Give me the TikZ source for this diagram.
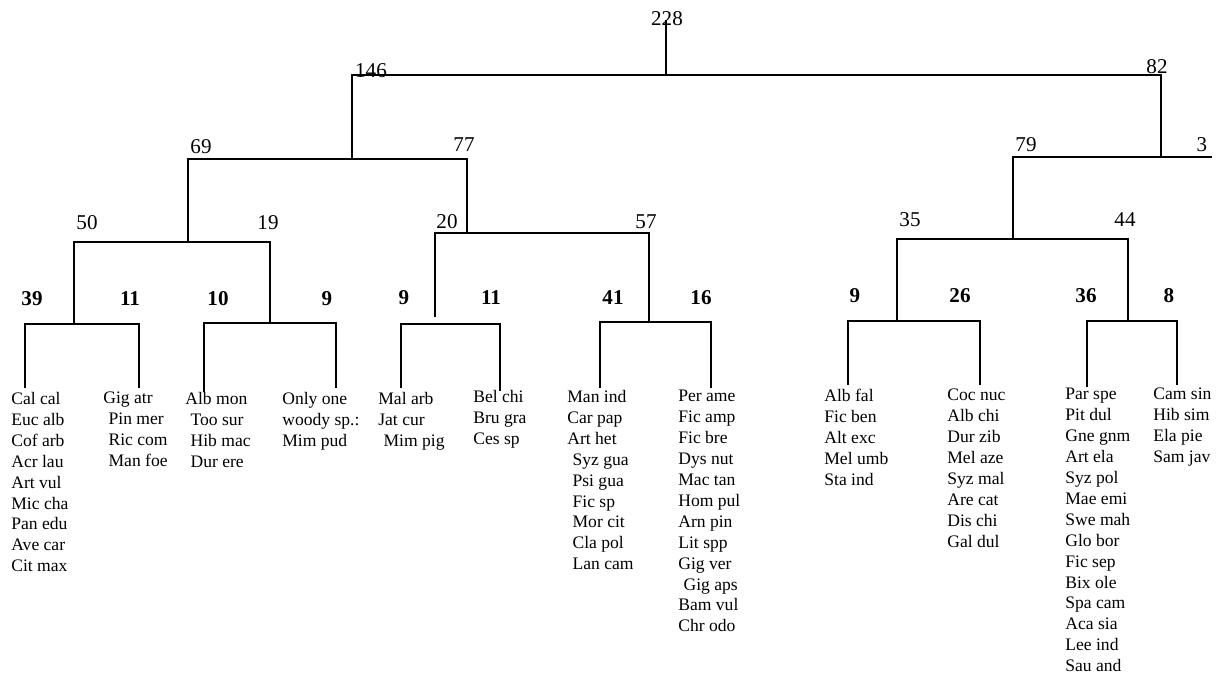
\documentclass[tikz,border=0pt]{standalone}
\usepackage{fontspec}
\setmainfont{Liberation Serif}
\usetikzlibrary{calc}

\begin{document}
\begin{tikzpicture}[
    x=0.02cm, y=-0.02cm,
    link/.style={line width=1pt},
    num/.style={font=\fontsize{12}{14}\selectfont, inner sep=0pt},
    grp/.style={font=\fontsize{12}{14}\selectfont\bfseries, inner sep=0pt},
    taxa/.style={font=\fontsize{10}{11.9}\selectfont, align=left, anchor=north west, inner sep=0pt},
  ]
    \useasboundingbox (0,0) rectangle (1221,678);
    \def\Ly{388}\def\sh{\hspace*{3pt}}
    % ---- junctions ----
    \coordinate (top) at (666,20);
    \coordinate (b228) at (666,75);
    \coordinate (b146) at (352,159);
    \coordinate (b82) at (1161,157);
    \coordinate (e3) at (1212,157);
    \coordinate (b69) at (188,242);
    \coordinate (b77) at (467,233);
    \coordinate (b79) at (1013,239);
    \coordinate (b50) at (74,324);
    \coordinate (b19) at (270,323);
    \coordinate (b20) at (435,317);
    \coordinate (g20) at (435,324);
    \coordinate (b57) at (649,322);
    \coordinate (b35) at (897,321);
    \coordinate (b44) at (1128,321);
    % ---- leaf stems ----
    \coordinate (l39) at (25,\Ly);   \coordinate (l11a) at (139,\Ly);
    \coordinate (l10) at (204,392);  \coordinate (l9a) at (336,\Ly);
    \coordinate (l9b) at (401,\Ly);  \coordinate (l11b) at (500,391);
    \coordinate (l41) at (600,\Ly);  \coordinate (l16) at (711,\Ly);
    \coordinate (l9c) at (848,385);  \coordinate (l26) at (980,385);
    \coordinate (l36) at (1087,387); \coordinate (l8) at (1177,385);
    % ---- tree ----
    \draw[link] (top) -- (b228);
    \draw[link] (b146) |- (b228) -| (b82);
    \draw[link] (b69) |- (b146) -| (b77);
    \draw[link] (b79) |- (b82) -- (e3);
    \draw[link] (b50) |- (b69) -| (b19);
    \draw[link] (b20) |- (b77) -| (b57);
    \draw[link] (b35) |- (b79) -| (b44);
    \draw[link] (l39) |- (b50) -| (l11a);
    \draw[link] (l10) |- (b19) -| (l9a);
    \draw[link] (l9b) |- (g20) -| (l11b);
    \draw[link] (l41) |- (b57) -| (l16);
    \draw[link] (l9c) |- (b35) -| (l26);
    \draw[link] (l36) |- (b44) -| (l8);
    % ---- cluster sizes ----
    \node[num] (n228) at (667,19) {228};
    \node[num] (n146) at (371,71) {146};
    \node[num] (n82) at (1157,67) {82};
    \node[num] (n79) at (1026,145) {79};
    \node[num] (n3) at (1202,145) {3};
    \node[num] (n69) at (201,147) {69};
    \node[num] (n77) at (464,145) {77};
    \node[num] (n50) at (87,223) {50};
    \node[num] (n19) at (268,223) {19};
    \node[num] (n20) at (447,222) {20};
    \node[num] (n57) at (646,222) {57};
    \node[num] (n35) at (910,220) {35};
    \node[num] (n44) at (1125,220) {44};
    \node[grp] (g39) at (32,299) {39};
    \node[grp] (g11a) at (130,299) {11};
    \node[grp] (g10) at (218,299) {10};
    \node[grp] (g9a) at (327,299) {9};
    \node[grp] (g9b) at (404,298) {9};
    \node[grp] (g11b) at (491,298) {11};
    \node[grp] (g41) at (613,298) {41};
    \node[grp] (g16) at (701,298) {16};
    \node[grp] (g9c) at (855,296) {9};
    \node[grp] (g26) at (960,296) {26};
    \node[grp] (g36) at (1086,296) {36};
    \node[grp] (g8) at (1169,296) {8};
    % ---- species lists ----
    \node[taxa] (t39) at (11,392) {Cal cal\\Euc alb\\Cof arb\\Acr lau\\Art vul\\Mic cha\\Pan edu\\Ave car\\Cit max};
    \node[taxa] (t11a) at (103,392) {Gig atr\\\sh Pin mer\\\sh Ric com\\\sh Man foe};
    \node[taxa] (t10) at (185,392) {Alb mon\\\sh Too sur\\\sh Hib mac\\\sh Dur ere};
    \node[taxa] (t9a) at (282,392) {Only one\\woody sp.:\\Mim pud};
    \node[taxa] (t9b) at (378,392) {Mal arb\\Jat cur\\\sh Mim pig};
    \node[taxa] (t11b) at (473,390) {Bel chi\\Bru gra\\Ces sp};
    \node[taxa] (t41) at (567,390) {Man ind\\Car pap\\Art het\\\sh Syz gua\\\sh Psi gua\\\sh Fic sp\\\sh Mor cit\\\sh Cla pol\\\sh Lan cam};
    \node[taxa] (t16) at (678,390) {Per ame\\Fic amp\\Fic bre\\Dys nut\\Mac tan\\Hom pul\\Arn pin\\Lit spp\\Gig ver\\\sh Gig aps\\Bam vul\\Chr odo};
    \node[taxa] (t9c) at (824,389) {Alb fal\\Fic ben\\Alt exc\\Mel umb\\Sta ind};
    \node[taxa] (t26) at (947,389) {Coc nuc\\Alb chi\\Dur zib\\Mel aze\\Syz mal\\Are cat\\Dis chi\\Gal dul};
    \node[taxa] (t36) at (1065,388) {Par spe\\Pit dul\\Gne gnm\\Art ela\\Syz pol\\Mae emi\\Swe mah\\Glo bor\\Fic sep\\Bix ole\\Spa cam\\Aca sia\\Lee ind\\Sau and};
    \node[taxa] (t8) at (1153,388) {Cam sin\\Hib sim\\Ela pie\\Sam jav};
\end{tikzpicture}
\end{document}
